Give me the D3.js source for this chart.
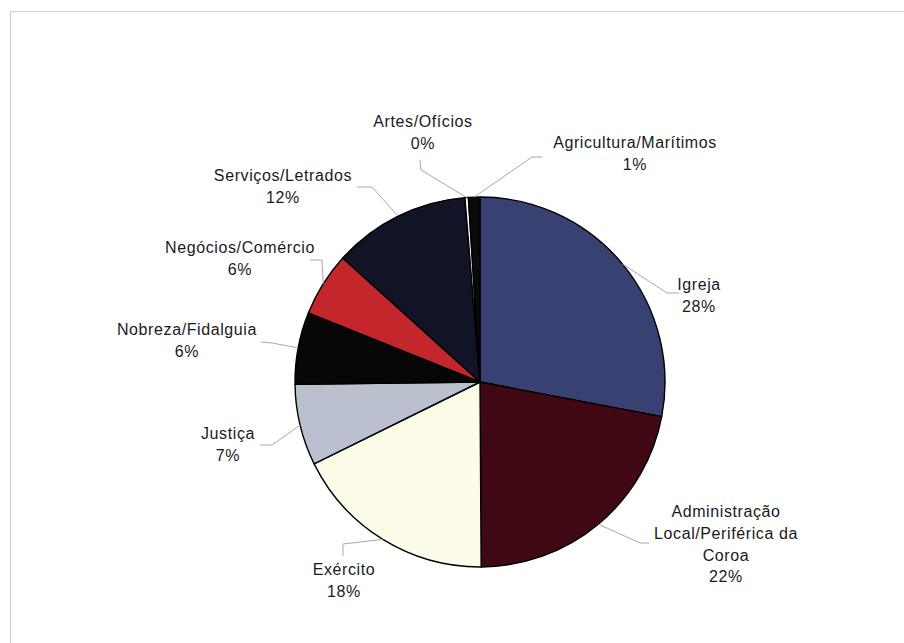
<!DOCTYPE html>
<html>
<head>
<meta charset="utf-8">
<script src="https://cdn.jsdelivr.net/npm/d3@7"></script>
<style>
  html, body { margin: 0; padding: 0; background: #fff; }
  svg { display: block; }
  .lbl { font-family: "Liberation Sans", Arial, sans-serif; font-size: 16px; fill: #1a1a1a; letter-spacing: 0.6px; }
</style>
</head>
<body>
<svg id="chart" width="904" height="643"></svg>
<script>
// Distribuição por grupo socioprofissional (%)
const categories = [
  "Igreja",
  "Administração Local/Periférica da Coroa",
  "Exército",
  "Justiça",
  "Nobreza/Fidalguia",
  "Negócios/Comércio",
  "Serviços/Letrados",
  "Artes/Ofícios",
  "Agricultura/Marítimos"
];
const values = [28.0, 21.9, 17.8, 7.1, 6.3, 5.6, 12.0, 0.3, 1.0];
const colors = ["#394172", "#3f0812", "#fcfce8", "#bac0cd", "#060606", "#c4272b", "#111427", "#ffffff", "#0a0a0a"];

// Label text lines (how each category name wraps)
const labelLines = [
  ["Igreja"],
  ["Administração", "Local/Periférica da", "Coroa"],
  ["Exército"],
  ["Justiça"],
  ["Nobreza/Fidalguia"],
  ["Negócios/Comércio"],
  ["Serviços/Letrados"],
  ["Artes/Ofícios"],
  ["Agricultura/Marítimos"]
];

// Label placement: centre x, first baseline y, and leader-line elbow/end points
const labelLayout = [
  { x: 699, y: 290, elbow: [667, 293], end: [679, 293] },
  { x: 726, y: 517, elbow: [640, 543], end: [649, 543] },
  { x: 344, y: 575, elbow: [343, 544], end: [343, 556] },
  { x: 228, y: 439, elbow: [272, 445], end: [260, 445] },
  { x: 187, y: 335, elbow: [272, 343], end: [261, 342] },
  { x: 240, y: 253, elbow: [322, 260], end: [310, 260] },
  { x: 283, y: 181, elbow: [372, 187], end: [357, 187] },
  { x: 423, y: 127, elbow: [421, 170], end: [420, 160] },
  { x: 635, y: 148, elbow: [532, 157], end: [542, 157] }
];

const data = categories.map((c, i) => ({ name: c, value: values[i], color: colors[i], i }));
const total = d3.sum(values);
const pct = d3.format(".0%");

const svg = d3.select("#chart");

// Chart area frame (top and left edges)
svg.append("path")
  .attr("d", "M10.5,643 L10.5,11.5 L904,11.5")
  .attr("fill", "none")
  .attr("stroke", "#cfcfcf")
  .attr("stroke-width", 1.2);

const cx = 480, cy = 382, r = 185;
const g = svg.append("g").attr("transform", `translate(${cx},${cy})`);

const pie = d3.pie().sort(null).value(d => d.value).startAngle(0).endAngle(2 * Math.PI);
const arcs = pie(data);
const arc = d3.arc().innerRadius(0).outerRadius(r);

g.selectAll("path.slice")
  .data(arcs)
  .join("path")
  .attr("class", "slice")
  .attr("d", arc)
  .attr("fill", d => d.data.color)
  .attr("stroke", "#000")
  .attr("stroke-width", 1.4)
  .attr("stroke-linejoin", "round");

// Leader lines from each slice's outer edge midpoint
const leaders = svg.append("g");
arcs.forEach((a, i) => {
  const mid = (a.startAngle + a.endAngle) / 2;
  const px = cx + r * Math.sin(mid);
  const py = cy - r * Math.cos(mid);
  const L = labelLayout[i];
  leaders.append("polyline")
    .attr("points", [[px, py], L.elbow, L.end].map(p => p.join(",")).join(" "))
    .attr("fill", "none")
    .attr("stroke", "#a8a8a8")
    .attr("stroke-width", 1);
});

// Labels: category name lines followed by rounded percentage
const labels = svg.append("g");
arcs.forEach((a, i) => {
  const L = labelLayout[i];
  const lines = labelLines[i].concat([pct(a.data.value / total)]);
  const t = labels.append("text")
    .attr("class", "lbl")
    .attr("text-anchor", "middle")
    .attr("x", L.x)
    .attr("y", L.y);
  lines.forEach((s, k) => {
    t.append("tspan").attr("x", L.x).attr("dy", k === 0 ? 0 : 21.8).text(s);
  });
});
</script>
</body>
</html>
